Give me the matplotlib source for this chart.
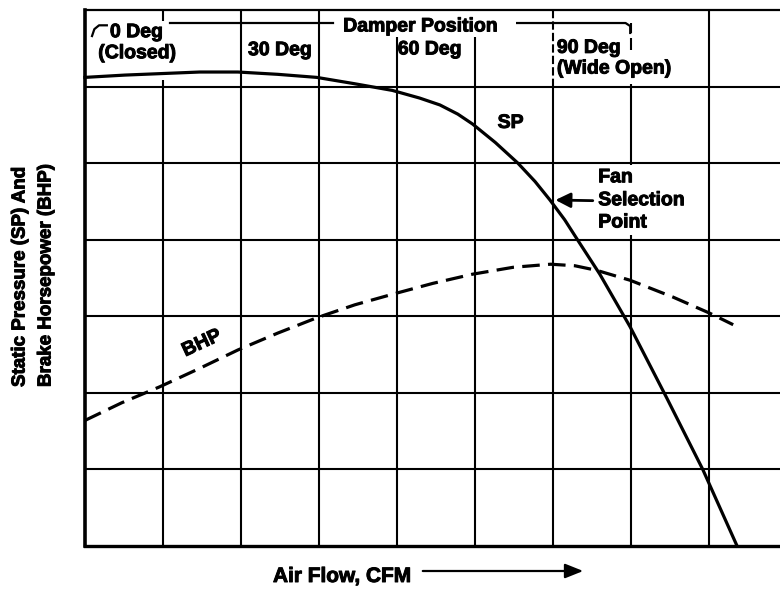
import matplotlib.pyplot as plt
import matplotlib.patheffects as pe
from matplotlib.patches import FancyArrowPatch

plt.rcParams['font.family'] = ['Liberation Sans', 'DejaVu Sans']
plt.rcParams['font.weight'] = 'bold'

# fan curves read in grid divisions (x: air flow, y: SP / BHP)
sp_flow = [0, 0.51, 0.99, 1.47, 1.96, 2.47, 2.97, 3.44, 3.94, 4.29, 4.55, 4.78,
           4.97, 5.26, 5.55, 5.77, 5.96, 6.15, 6.32, 6.60, 6.99, 7.46, 7.92, 8.36]
sp_value = [6.12, 6.15, 6.17, 6.19, 6.19, 6.16, 6.12, 6.04, 5.95, 5.85, 5.76, 5.64,
            5.51, 5.27, 5.00, 4.76, 4.52, 4.26, 3.99, 3.55, 2.86, 1.93, 1.00, 0.0]

bhp_flow = [0, 0.47, 0.96, 1.47, 1.96, 2.47, 2.97, 3.46, 3.95, 4.46, 4.97, 5.49,
            5.97, 6.28, 6.56, 6.99, 7.54, 8.01, 8.31]
bhp_value = [1.64, 1.87, 2.08, 2.32, 2.56, 2.78, 2.98, 3.15, 3.29, 3.43, 3.55, 3.64,
             3.68, 3.66, 3.60, 3.47, 3.25, 3.04, 2.89]

damper_angles = [0, 30, 60, 90]
damper_notes = ['(Closed)', '(Wide Open)']
sel_idx = 16   # SP point picked as the fan selection point

bold = [pe.withStroke(linewidth=0.7, foreground='black')]

fig = plt.figure(figsize=(7.8, 5.91), dpi=100)
ax = fig.add_axes([85 / 780, 45 / 591, 695 / 780, 536 / 591])
ax.set_xlim(0, 695 / 78)
ax.set_ylim(0, 7.0)
ax.set_xticks([])
ax.set_yticks([])
ax.spines['right'].set_visible(False)
ax.spines['left'].set_linewidth(2.6)
ax.spines['bottom'].set_linewidth(2.4)
ax.spines['top'].set_linewidth(1.6)

# grid, with breaks where the labels sit
glw = 1.5
for yy in range(1, 7):
    ax.axhline(yy, color='black', lw=glw, zorder=1)
vsegs = {
    1: [(0, 6.08), (6.86, 7)],
    2: [(0, 7)],
    3: [(0, 7)],
    4: [(0, 6.65)],
    5: [(0, 6.65)],
    6: [(0, 6)],
    7: [(0, 4.06), (4.97, 6.03), (6.48, 6.63), (6.70, 6.83)],
    8: [(0, 7)],
}
for xx, segs in vsegs.items():
    for y0, y1 in segs:
        ax.plot([xx, xx], [y0, y1], color='black', lw=glw, zorder=1,
                solid_capstyle='butt')
# the 90 deg mark is broken through the label band
ax.plot([6, 6], [6, 7], color='black', lw=glw, dashes=(4, 1.5), zorder=1)

# curves
ax.plot(sp_flow, sp_value, color='black', lw=2.3, zorder=3, clip_on=False)
ax.plot(bhp_flow, bhp_value, color='black', lw=2.3, zorder=3,
        dashes=(5.5, 2.6))

fs = 14
tkw = dict(fontsize=fs, fontweight='bold', ha='left', va='baseline',
           path_effects=bold)

# damper position bracket
ax.plot([0.09, 0.12, 0.18, 0.28], [6.66, 6.75, 6.80, 6.80], color='black', lw=1.6)
ax.plot([1.09, 3.18], [6.83, 6.83], color='black', lw=1.6)
ax.plot([5.54, 6.93, 6.99, 6.99], [6.83, 6.83, 6.79, 6.70], color='black', lw=1.6)
ax.text(3.31, 6.72, 'Damper Position', **tkw)

ax.text(0.32, 6.645, f'{damper_angles[0]} Deg', **tkw)
ax.text(0.17, 6.37, damper_notes[0], **tkw)
ax.text(2.09, 6.41, f'{damper_angles[1]} Deg', **tkw)
ax.text(4.01, 6.42, f'{damper_angles[2]} Deg', **tkw)
ax.text(6.05, 6.44, f'{damper_angles[3]} Deg', **tkw)
ax.text(6.05, 6.17, damper_notes[1], **tkw)

# curve labels
ax.text(5.29, 5.46, 'SP', **tkw)
ax.text(1.50, 2.64, 'BHP', fontsize=fs, fontweight='bold', ha='center',
        va='center', rotation=25, path_effects=bold)

ax.text(6.58, 4.75, 'Fan', **tkw)
ax.text(6.58, 4.45, 'Selection', **tkw)
ax.text(6.58, 4.16, 'Point', **tkw)
ax.annotate('', xy=(sp_flow[sel_idx], sp_value[sel_idx]), xytext=(6.51, 4.51),
            arrowprops=dict(arrowstyle='-|>,head_length=0.5,head_width=0.25',
                            color='black', lw=2.0, shrinkA=0, shrinkB=4,
                            mutation_scale=18))

# axis titles
fig.text(20 / 780, (591 - 387) / 591, 'Static Pressure (SP) And',
         rotation=90, fontsize=13.5, fontweight='bold', ha='center', va='bottom',
         path_effects=bold)
fig.text(46 / 780, (591 - 387) / 591, 'Brake Horsepower (BHP)',
         rotation=90, fontsize=13.5, fontweight='bold', ha='center', va='bottom',
         path_effects=bold)

fig.text(273 / 780, (591 - 582) / 591, 'Air Flow, CFM', fontsize=15,
         fontweight='bold', ha='left', va='baseline', path_effects=bold)
fig.patches.append(FancyArrowPatch(
    (420 / 780, (591 - 571) / 591), (586 / 780, (591 - 571) / 591),
    transform=fig.transFigure, arrowstyle='-|>,head_length=0.55,head_width=0.22',
    mutation_scale=20, color='black', lw=1.6))

fig.savefig('out.png', dpi=100)
